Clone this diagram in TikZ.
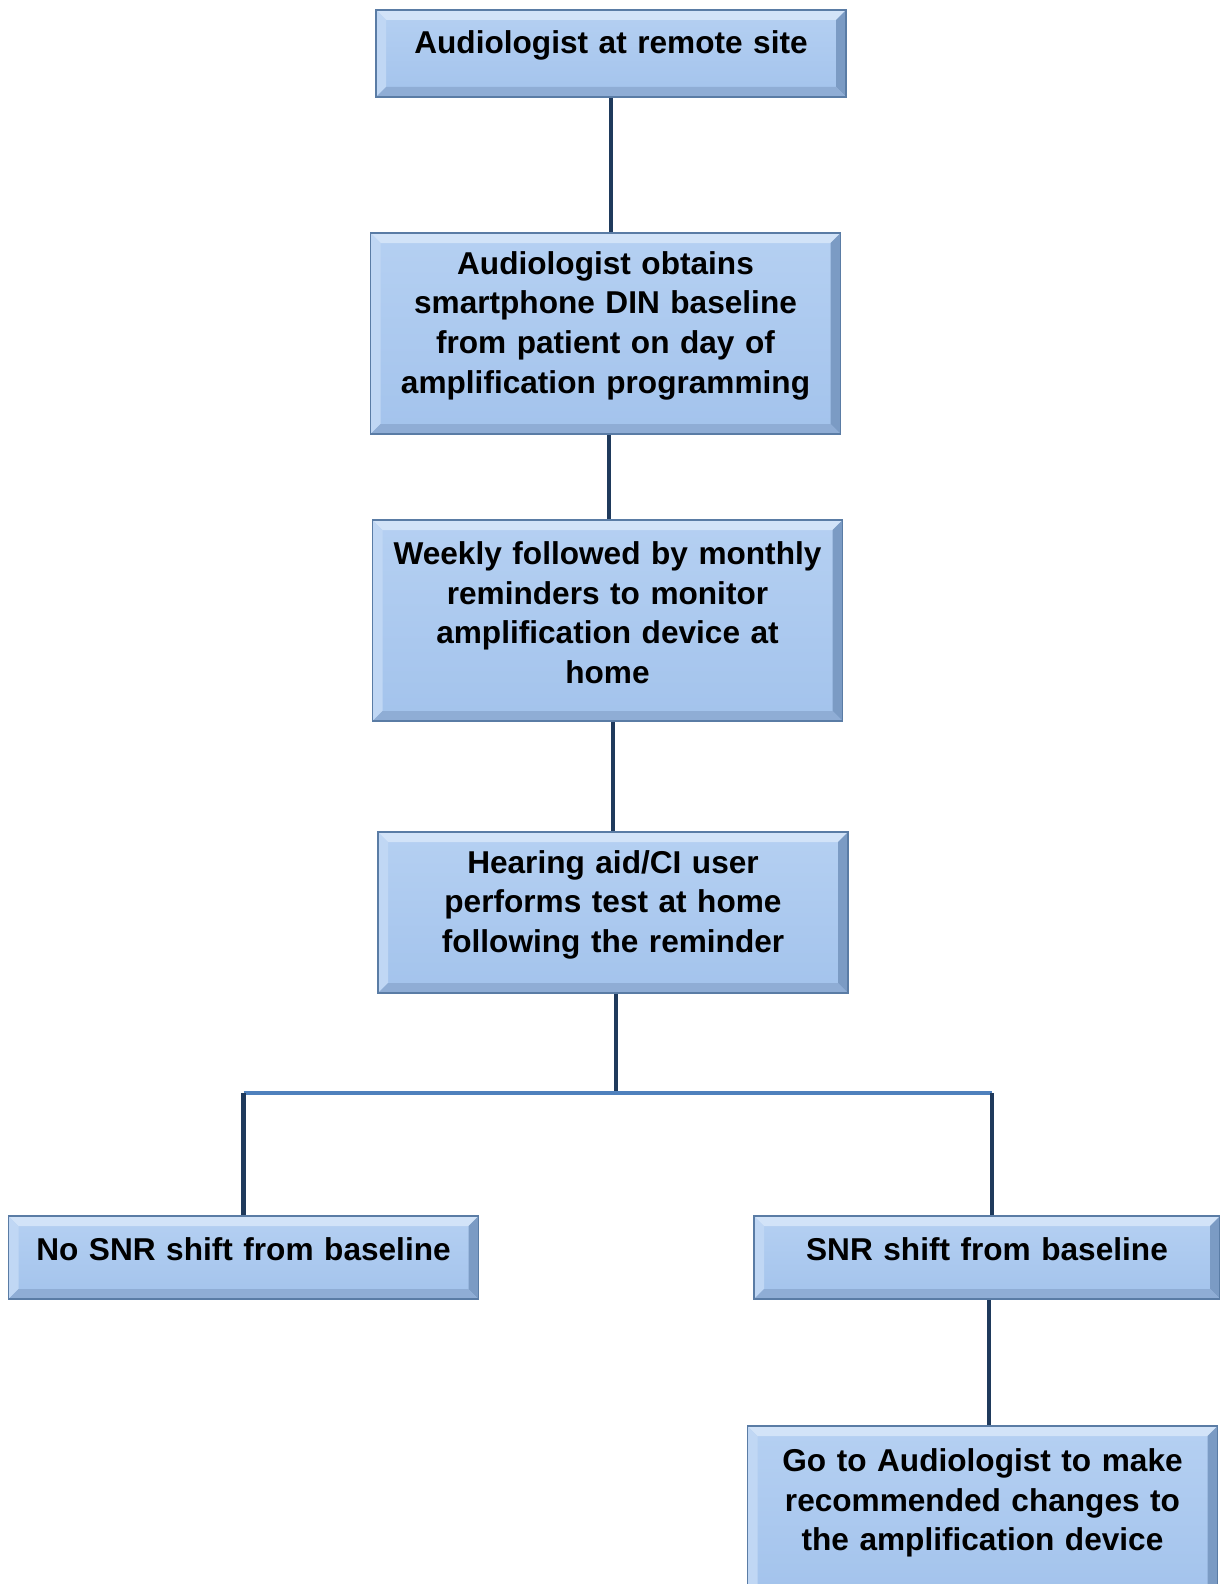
\documentclass[tikz,border=0pt]{standalone}
\usepackage{fontspec}
\setmainfont{Liberation Sans}
\usetikzlibrary{positioning}
\definecolor{filltop}{HTML}{B5D0F2}
\definecolor{fillbot}{HTML}{A3C3EC}
\definecolor{boxline}{HTML}{5A7CA5}
\definecolor{bevtop}{HTML}{D2E3F8}
\definecolor{bevleft}{HTML}{C0D7F4}
\definecolor{bevright}{HTML}{7B9BC4}
\definecolor{bevbot}{HTML}{8FADD5}
\definecolor{linkdark}{HTML}{1F3A5C}
\definecolor{linkmid}{HTML}{4F81BD}
\begin{document}
\begin{tikzpicture}[x=0.5pt,y=-0.5pt,font=\fontsize{15.8}{19.8}\selectfont\bfseries,
  box/.style={draw=boxline,line width=0.8pt,top color=filltop,bottom color=fillbot,
    text width=230pt,align=center,inner sep=0pt,minimum width=235pt,
    execute at end node={\endgraf\vspace*{8pt}},
    path picture={
      \coordinate (pnw) at (path picture bounding box.north west);
      \coordinate (pne) at (path picture bounding box.north east);
      \coordinate (psw) at (path picture bounding box.south west);
      \coordinate (pse) at (path picture bounding box.south east);
      \fill[bevtop] (pnw) -- (pne) -- ([shift={(-5pt,-5pt)}]pne) -- ([shift={(5pt,-5pt)}]pnw) -- cycle;
      \fill[bevleft] (pnw) -- (psw) -- ([shift={(5pt,5pt)}]psw) -- ([shift={(5pt,-5pt)}]pnw) -- cycle;
      \fill[bevright] (pne) -- (pse) -- ([shift={(-5pt,5pt)}]pse) -- ([shift={(-5pt,-5pt)}]pne) -- cycle;
      \fill[bevbot] (psw) -- (pse) -- ([shift={(-5pt,5pt)}]pse) -- ([shift={(5pt,5pt)}]psw) -- cycle;
    }},
  link/.style={draw=linkdark,line width=2.2pt},
  bar/.style={draw=linkmid,line width=2.2pt}]
\useasboundingbox (0,0) rectangle (1220,1584);
\node[box,minimum height=43.5pt] (remote) at (611,53.5) {Audiologist at remote site};
\node[box,minimum height=100.5pt] (baseline) at (605.5,333.5) {Audiologist obtains\\smartphone DIN baseline\\from patient on day of\\amplification programming};
\node[box,minimum height=100.5pt] (remind) at (607.5,620.5) {Weekly followed by monthly\\reminders to monitor\\amplification device at\\home};
\node[box,minimum height=80.5pt] (test) at (613,912.5) {Hearing aid/CI user\\performs test at home\\following the reminder};
\node[box,minimum height=41.5pt] (noshift) at (243.5,1257.5) {No SNR shift from baseline};
\node[box,minimum height=41.5pt,minimum width=233pt] (shift) at (987,1257.5) {SNR shift from baseline};
\node[box,minimum height=85pt] (visit) at (982.5,1511) {Go to Audiologist to make\\recommended changes to\\the amplification device};
\coordinate (split) at (616,1093);
\coordinate (rightdrop) at (992,1093);
\draw[link] (remote.south) -- (remote.south |- baseline.north);
\draw[link] ([xshift=1.75pt]baseline.south) -- ([xshift=1.75pt]baseline.south |- remind.north);
\draw[link] ([xshift=2.75pt]remind.south) -- ([xshift=2.75pt]remind.south |- test.north);
\draw[link] (test.south -| split) -- (split);
\draw[bar] (noshift.north |- split) -- (rightdrop);
\draw[link] (noshift.north |- split) -- (noshift.north);
\draw[link] (rightdrop) -- (rightdrop |- shift.north);
\draw[link] ([xshift=1pt]shift.south) -- ([xshift=1pt]shift.south |- visit.north);
\end{tikzpicture}
\end{document}
